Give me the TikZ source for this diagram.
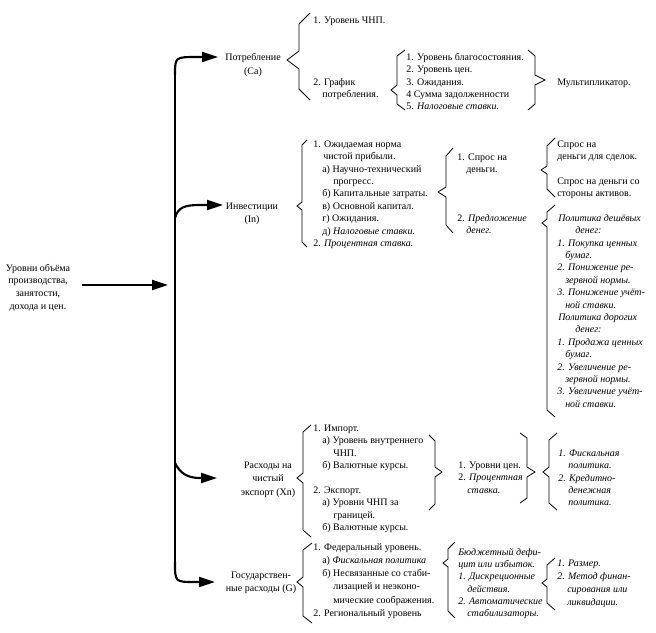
\documentclass[tikz,border=0pt]{standalone}
\usepackage{fontspec}
\setmainfont{Liberation Serif}
\usetikzlibrary{arrows.meta}
\newlength\pxu \setlength\pxu{0.75pt}
\newcommand\ind[1]{\hspace*{#1\pxu}}
\newcommand\fs{\rule{0pt}{7pt}}
% brace: xend, xv, xtip, ytop, ytip, ybot, dEnd, dTip
\newcommand\Brc[8]{\draw[brc] (#1,#4) -- (#2,#4+#7) -- (#2,#5-#8) -- (#3,#5) -- (#2,#5+#8) -- (#2,#6-#7) -- (#1,#6);}
\begin{document}
\begin{tikzpicture}[x=0.75pt,y=-0.75pt,
  txt/.style={inner sep=0pt, font=\fontsize{7.5pt}{9.3pt}\selectfont},
  blk/.style={txt, anchor=north west, align=left},
  iblk/.style={blk, font=\fontsize{7.5pt}{9.3pt}\selectfont\itshape},
  ctr/.style={txt, anchor=north, align=center},
  brc/.style={line width=0.6pt, line join=miter},
  arr/.style={line width=1.6pt, -{Triangle[length=12pt,width=7.5pt]}},
  spine/.style={line width=1.6pt}]
\useasboundingbox (0,0) rectangle (656,632);

% ---- labels of the tree
\node[ctr, font=\fontsize{7.5pt}{9.5pt}\selectfont] (main) at (38,261.7) {\fs Уровни объёма\\производства,\\занятости,\\дохода и цен.};
\node[ctr, font=\fontsize{7.5pt}{10.5pt}\selectfont] (potr) at (253,50.7) {\fs Потребление\\(Ca)};
\node[ctr, font=\fontsize{7.5pt}{9.75pt}\selectfont] (inv) at (252,199.7) {\fs Инвестиции\\(In)};
\node[ctr, font=\fontsize{7.5pt}{10.1pt}\selectfont] (rash) at (268,458.7) {\fs Расходы на\\чистый\\экспорт (Xn)};
\node[ctr, font=\fontsize{7.5pt}{9.75pt}\selectfont] (gos) at (261,568.7) {\fs Государствен-\\ные расходы (G)};

% ---- connectors
\coordinate (sT) at (175,75);
\coordinate (sB) at (175,562);
\coordinate (sM) at (168,285);
\coordinate (mS) at (82,285);
\coordinate (aP) at (218,57);
\coordinate (aI) at (223,205);
\coordinate (aR) at (217,478);
\coordinate (aG) at (215,582);
\draw[spine] (sT) -- (sB);
\draw[arr] (mS) -- (sM);
\draw[arr] (sT) .. controls (175,57) .. (197,57) -- (aP);
\draw[arr] (175,218) .. controls (178,207) and (185,205) .. (200,205) -- (aI);
\draw[arr] (175,463) .. controls (180,473) and (187,478) .. (200,478) -- (aR);
\draw[arr] (sB) .. controls (175,582) .. (195,582) -- (aG);

% ---- Consumption
\Brc{310}{299}{287}{13}{60}{100}{11}{9}
\node[blk] (c1) at (313,13.7) {\fs 1. Уровень ЧНП.};
\node[blk] (c2) at (313,75.7) {\fs 2. График\\\ind{9}потребления.};
\Brc{405}{397}{391}{50}{90}{110}{6}{5}
\node[blk] (c3) at (406,50.7) {\fs 1. Уровень благосостояния.\\2. Уровень цен.\\3. Ожидания.\\4 Сумма задолженности\\5. \textit{Налоговые ставки.}};
\Brc{528}{535}{545}{50}{80}{110}{6}{5}
\node[blk] (mult) at (557,75.7) {\fs Мультипликатор.};

% ---- Investment
\Brc{307}{302}{297}{140}{206}{247}{5}{4}
\node[blk] (i1) at (313,137.7) {\fs 1. Ожидаемая норма\\\ind{10}чистой прибыли.\\\ind{9}а) Научно-технический\\\ind{20}прогресс.\\\ind{9}б) Капитальные затраты.\\\ind{9}в) Основной капитал.\\\ind{9}г) Ожидания.\\\ind{9}д) \textit{Налоговые ставки.}\\2. \textit{Процентная ставка.}};
\Brc{453}{446}{438}{148}{192}{233}{8}{5}
\node[blk] (sd) at (457,150.7) {\fs 1. Спрос на\\\ind{9}деньги.};
\node[blk] (pd) at (457,211.7) {\fs 2. \textit{Предложение}\\\ind{9}\textit{денег.}};
\Brc{555}{547}{541}{138}{170}{197}{8}{4}
\node[blk] (sd1) at (557,137.7) {\fs Спрос на\\деньги для сделок.};
\node[blk] (sd2) at (557,174.7) {\fs Спрос на деньги со\\стороны активов.};
\Brc{555}{547}{542}{205}{223}{417}{7}{4}
\node[iblk] (pol) at (557,211.7) {\fs\ind{1}Политика дешёвых\\\ind{18}денег:\\1. Покупка ценных\\\ind{8}бумаг.\\2. Понижение ре-\\\ind{8}зервной нормы.\\3. Понижение учёт-\\\ind{8}ной ставки.\\\ind{1}Политика дорогих\\\ind{18}денег:\\1. Продажа ценных\\\ind{8}бумаг.\\2. Увеличение ре-\\\ind{8}зервной нормы.\\3. Увеличение учёт-\\\ind{8}ной ставки.};

% ---- Net export
\Brc{311}{303}{297}{425}{478}{537}{7}{5}
\node[blk] (r1) at (313,421.7) {\fs 1. Импорт.\\\ind{9}а) Уровень внутреннего\\\ind{20}ЧНП.\\\ind{9}б) Валютные курсы.\\\mbox{}\\2. Экспорт.\\\ind{9}а) Уровни ЧНП за\\\ind{20}границей.\\\ind{9}б) Валютные курсы.};
\Brc{429}{435}{442}{435}{472}{510}{6}{5}
\node[blk] (r2) at (458,458.7) {\fs 1. Уровни цен.\\2. \textit{Процентная}\\\ind{9}\textit{ставка.}};
\Brc{520}{527}{535}{433}{472}{503}{5}{5}
\Brc{557}{549}{543}{433}{472}{510}{7}{5}
\node[iblk] (r3) at (558,446.7) {\fs 1. Фискальная\\\ind{10}политика.\\2. Кредитно-\\\ind{10}денежная\\\ind{10}политика.};

% ---- Government
\Brc{312}{303}{297}{543}{582}{623}{7}{5}
\node[blk, font=\fontsize{7.5pt}{9.9pt}\selectfont] (g1) at (313,540.7) {\fs 1. Федеральный уровень.\\\ind{9}а) \textit{Фискальная политика}\\\ind{9}б) Несвязанные со стаби-\\\ind{20}лизацией и неэконо-\\\ind{20}мические соображения.\\2. Региональный уровень};
\Brc{455}{448}{443}{542}{563}{618}{7}{4}
\node[iblk, font=\fontsize{7.5pt}{9.2pt}\selectfont\itshape] (g2) at (458,545.7) {\fs Бюджетный дефи-\\цит или избыток.\\1. Дискреционные\\\ind{9}действия.\\2. Автоматические\\\ind{9}стабилизаторы.};
\Brc{555}{547}{542}{558}{583}{610}{7}{4}
\node[iblk, font=\fontsize{7.5pt}{9.75pt}\selectfont\itshape] (g3) at (557,556.7) {\fs 1. Размер.\\2. Метод финан-\\\ind{10}сирования или\\\ind{10}ликвидации.};
\end{tikzpicture}
\end{document}
